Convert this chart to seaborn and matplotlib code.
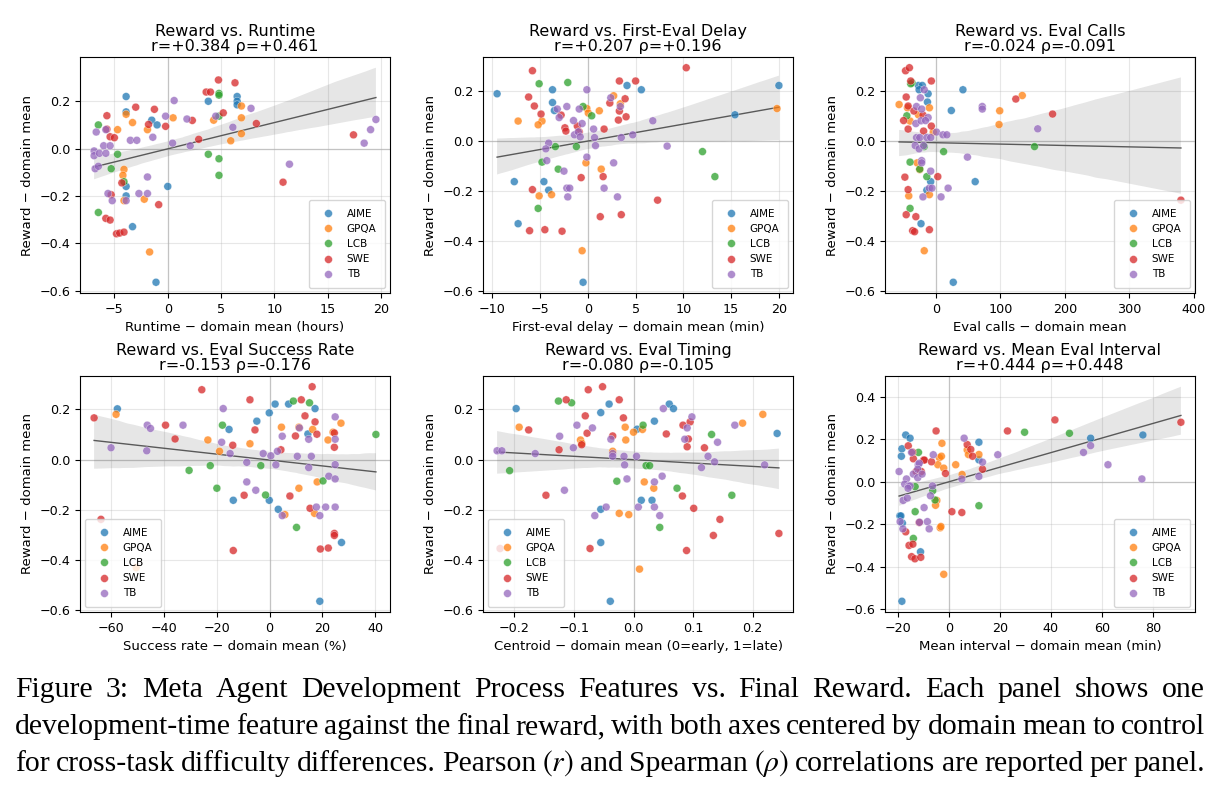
import matplotlib
matplotlib.use("Agg")
import matplotlib.pyplot as plt
import matplotlib.ticker as mticker
import seaborn as sns
import pandas as pd

domains = ["AIME", "GPQA", "LCB", "SWE", "TB"]
colors = sns.color_palette("tab10", 5)

# ---- Panel 1: Runtime (hours) ----
p1_aime = [(-3.9, 0.22), (-3.9, 0.155), (-1.5, 0.12), (-1.0, 0.10), (3.8, 0.20), (6.5, 0.22), (6.5, 0.20),
           (6.5, 0.185), (-3.9, -0.16), (-3.9, -0.20), (0.0, -0.16), (-3.3, -0.33), (-1.1, -0.565)]
p1_gpqa = [(-3.9, 0.145), (-3.3, 0.11), (-4.7, 0.08), (-1.9, 0.08), (0.5, 0.13), (4.3, 0.12), (6.9, 0.18),
           (6.9, 0.13), (6.9, 0.063), (5.9, 0.033), (-4.1, -0.088), (-4.2, -0.113), (-4.1, -0.22), (-2.2, -0.214),
           (-1.7, -0.437)]
p1_lcb = [(-6.5, 0.10), (-4.7, -0.024), (-5.3, -0.085), (-4.1, -0.14), (-6.5, -0.27), (4.8, 0.233), (4.8, 0.226),
          (4.8, 0.137), (3.8, -0.024), (4.8, -0.043), (4.8, -0.113)]
p1_swe = [(-5.7, 0.139), (-5.7, 0.082), (-5.4, 0.05), (-5.0, 0.046), (-3.0, 0.175), (-1.25, 0.166), (-1.8, 0.102),
          (-0.2, 0.094), (2.3, 0.119), (2.9, 0.039), (3.6, 0.239), (4.0, 0.239), (4.75, 0.29), (6.3, 0.278),
          (5.2, 0.151), (8.3, 0.106), (-4.3, -0.145), (-5.3, -0.195), (-0.85, -0.237), (-5.8, -0.295),
          (-5.4, -0.302), (-4.8, -0.36), (-4.5, -0.357), (-4.1, -0.353), (10.8, -0.142), (17.4, 0.058)]
p1_tb = [(-6.7, 0.07), (-5.8, 0.08), (-6.0, 0.012), (-5.4, 0.012), (-6.9, -0.01), (-6.9, -0.03), (-6.4, -0.02),
         (-5.8, -0.02), (-6.8, -0.085), (-6.5, -0.075), (-3.5, 0.035), (-2.9, 0.035), (-1.4, 0.048), (-0.2, 0.137),
         (0.6, 0.203), (1.8, 0.125), (0.45, 0.023), (2.1, 0.012), (4.5, 0.137), (6.1, 0.09), (7.8, 0.17),
         (-5.6, -0.19), (-5.2, -0.22), (-3.9, -0.22), (-2.7, -0.19), (-1.9, -0.19), (-1.9, -0.12), (11.4, -0.066),
         (18.4, 0.023), (19.0, 0.08), (19.5, 0.123)]

# ---- Panel 2: First-eval delay (min) ----
p2_aime = [(-9.5, 0.188), (-3.7, 0.204), (-3.7, 0.153), (-3.5, 0.121), (4.1, 0.221), (5.6, 0.204), (15.4, 0.104),
           (20.0, 0.221), (-7.7, -0.163), (-4.6, -0.163), (-4.1, -0.197), (-7.3, -0.331), (-0.5, -0.565)]
p2_gpqa = [(-7.3, 0.079), (-4.8, 0.079), (-5.2, 0.064), (-0.1, 0.129), (0.05, 0.111), (1.2, 0.12), (2.7, 0.18),
           (3.4, 0.148), (19.8, 0.129), (-0.2, -0.088), (1.4, -0.113), (-5.1, -0.22), (-3.8, -0.215),
           (-0.6, -0.439)]
p2_lcb = [(-5.1, 0.228), (-2.1, 0.233), (-0.5, 0.137), (0.4, 0.1), (-3.4, -0.023), (-1.2, -0.023), (-4.8, -0.085),
          (-3.1, -0.113), (-5.2, -0.27), (12.0, -0.043), (13.3, -0.143)]
p2_swe = [(-5.8, 0.28), (-6.2, 0.175), (-5.6, 0.139), (-4.9, 0.107), (-2.8, 0.103), (-2.4, 0.052), (-2.3, 0.039),
          (-1.1, 0.059), (-0.9, 0.036), (2.3, 0.151), (3.3, 0.239), (5.0, 0.239), (3.9, 0.168), (3.3, 0.119),
          (3.2, 0.083), (4.0, 0.096), (1.7, 0.047), (-0.7, -0.147), (1.6, -0.143), (-5.8, -0.195), (-6.1, -0.359),
          (-4.5, -0.355), (-2.7, -0.361), (1.3, -0.303), (3.5, -0.295), (7.3, -0.237), (10.3, 0.292)]
p2_tb = [(-0.1, 0.204), (2.4, 0.172), (3.4, 0.137), (-3.2, 0.127), (-3.0, 0.093), (-2.2, 0.137), (-0.9, 0.127),
         (-1.5, 0.081), (-0.6, 0.069), (-1.4, 0.024), (-1.0, 0.036), (-0.8, 0.016), (0.6, 0.047), (0.7, 0.013),
         (0.8, -0.019), (3.5, 0.013), (4.7, 0.024), (6.8, 0.08), (8.3, -0.021), (-4.1, -0.009), (-4.4, -0.032),
         (-4.3, -0.079), (-2.5, -0.121), (-2.2, -0.189), (-1.9, -0.189), (-2.1, -0.224), (-0.1, -0.065),
         (1.7, -0.189), (2.7, -0.088), (3.1, -0.224)]

# ---- Panel 3: Eval calls ----
p3_aime = [(-27, 0.221), (-21, 0.221), (-26, 0.204), (-12, 0.188), (-13, 0.155), (42, 0.204), (24, 0.121),
           (61, -0.163), (-8, -0.163), (-14, -0.197), (-23, -0.331), (27, -0.565)]
p3_gpqa = [(-57, 0.145), (-44, 0.132), (-40, 0.079), (-10, 0.132), (-27, 0.104), (-4, 0.035), (99, 0.12),
           (98, 0.065), (134, 0.181), (-29, -0.088), (-25, -0.115), (-42, -0.22), (-10, -0.215), (-18, -0.439)]
p3_lcb = [(-37, 0.232), (-39, 0.228), (-45, 0.1), (-40, -0.085), (-25, -0.113), (-18, -0.023), (12, -0.043),
          (-14, -0.143), (-40, -0.27), (153, -0.023)]
p3_swe = [(-47, 0.28), (-41, 0.292), (-39, 0.239), (-7, 0.239), (-46, 0.175), (-43, 0.139), (-34, 0.119),
          (-50, 0.081), (-43, 0.047), (-20, 0.103), (-19, 0.039), (-7, 0.059), (124, 0.167), (181, 0.107),
          (-48, -0.145), (-43, -0.195), (3, -0.143), (-46, -0.295), (-31, -0.303), (-36, -0.359), (-33, -0.363),
          (-10, -0.355), (380, -0.237)]
p3_tb = [(-18, 0.204), (-24, 0.172), (-30, 0.137), (-22, 0.127), (-12, 0.093), (-31, 0.069), (-23, 0.08),
         (-16, 0.081), (1, 0.035), (11, 0.024), (17, 0.024), (-30, 0.013), (-25, 0.013), (-14, 0.013), (-8, 0.013),
         (-32, -0.019), (-26, -0.032), (-19, -0.019), (72, 0.137), (72, 0.127), (158, 0.048), (49, -0.065),
         (-22, -0.079), (-22, -0.088), (-8, -0.121), (-10, -0.189), (-6, -0.189), (-20, -0.224), (8, -0.224),
         (19, -0.189)]

# ---- Panel 4: Eval success rate (%) ----
p4_aime = [(-57.5, 0.202), (-15.3, 0.12), (-4.8, 0.153), (-0.1, 0.186), (2.1, 0.221), (7.2, 0.221), (17.2, 0.203),
           (14.5, 0.102), (-13.7, -0.162), (-0.1, -0.162), (3.3, -0.198), (27.2, -0.33), (19.0, -0.564)]
p4_gpqa = [(-58, 0.18), (-23.3, 0.078), (-18.9, 0.033), (-7.4, 0.063), (4.5, 0.129), (11.1, 0.129), (16.3, 0.12),
           (22.1, 0.078), (24.0, 0.109), (27.0, 0.145), (18.0, -0.089), (11.1, -0.114), (5.8, -0.219),
           (17.0, -0.214), (-50.4, -0.43)]
p4_lcb = [(9.0, 0.233), (15.1, 0.226), (-17.8, 0.137), (-22.4, -0.024), (-30.4, -0.043), (-3.3, -0.024),
          (-19.9, -0.114), (-1.5, -0.141), (20.2, -0.085), (10.2, -0.27), (40.2, 0.1)]
p4_swe = [(-66.3, 0.166), (-25.6, 0.278), (-7.4, 0.238), (-39.3, 0.137), (-35.7, 0.082), (-13.9, 0.057),
          (-5.5, 0.118), (12.0, 0.238), (16.1, 0.29), (13.4, 0.174), (17.2, 0.15), (9.8, 0.094), (17.9, 0.101),
          (4.3, 0.039), (24.5, 0.106), (24.5, 0.049), (-63.7, -0.238), (-13.7, -0.362), (-9.6, -0.142),
          (7.7, -0.145), (15.3, -0.194), (24.5, -0.294), (24.5, -0.302), (19.2, -0.356), (22.2, -0.352)]
p4_tb = [(-59.9, 0.047), (-46.2, 0.137), (-45.0, 0.124), (-46.4, 0.035), (-32.7, 0.137), (-17.5, 0.203),
         (-18.1, 0.069), (-14.9, 0.024), (-8.6, -0.011), (-2.4, 0.024), (0.5, 0.015), (2.4, -0.021), (3.0, 0.033),
         (4.8, 0.093), (11.3, 0.126), (10.5, 0.013), (14.8, 0.081), (14.8, -0.032), (15.8, 0.013), (24.8, 0.17),
         (24.8, 0.081), (24.8, -0.02), (22.4, -0.066), (24.8, -0.077), (-8.6, -0.089), (-5.2, -0.122),
         (4.8, -0.223), (19.0, -0.223), (17.7, -0.189), (21.2, -0.189), (24.8, -0.189)]

# ---- Panel 5: Eval timing centroid ----
p5_aime = [(-0.197, 0.203), (-0.055, 0.187), (-0.041, 0.221), (0.006, 0.121), (0.035, 0.153), (0.06, 0.221),
           (0.067, 0.203), (0.241, 0.104), (0.013, -0.162), (0.031, -0.162), (-0.055, -0.198), (-0.055, -0.33),
           (-0.039, -0.564)]
p5_gpqa = [(-0.192, 0.129), (-0.089, 0.078), (-0.087, 0.065), (-0.035, 0.033), (-0.014, 0.129), (-0.013, 0.078),
           (0.0, 0.109), (0.015, 0.12), (0.018, -0.089), (0.034, -0.114), (-0.024, -0.214), (-0.008, -0.219),
           (0.01, -0.436), (0.217, 0.18), (0.183, 0.145)]
p5_lcb = [(-0.126, 0.233), (-0.104, 0.226), (0.016, 0.137), (0.131, 0.1), (0.021, -0.024), (0.027, -0.024),
          (-0.208, -0.044), (-0.028, -0.086), (0.073, -0.114), (0.165, -0.142), (0.044, -0.27)]
p5_swe = [(-0.076, 0.278), (-0.052, 0.29), (-0.113, 0.238), (-0.024, 0.238), (-0.081, 0.174), (-0.017, 0.166),
          (-0.176, 0.118), (-0.078, 0.105), (-0.035, 0.094), (-0.087, 0.059), (-0.125, 0.039), (0.055, 0.102),
          (0.083, 0.137), (0.095, 0.15), (0.092, 0.082), (0.09, 0.051), (0.119, 0.047), (-0.147, -0.142),
          (0.082, -0.145), (0.101, -0.194), (0.145, -0.238), (0.134, -0.302), (0.089, -0.362), (-0.073, -0.354),
          (0.244, -0.294), (-0.224, -0.354)]
p5_tb = [(-0.229, 0.035), (-0.221, 0.035), (-0.165, 0.024), (-0.124, 0.093), (-0.101, 0.047), (-0.095, 0.137),
         (-0.069, 0.126), (-0.038, 0.081), (-0.035, 0.024), (-0.035, 0.013), (-0.016, 0.013), (-0.015, -0.021),
         (0.005, 0.013), (0.05, 0.203), (0.098, 0.17), (0.09, 0.126), (0.086, 0.081), (0.141, 0.069),
         (0.125, 0.013), (0.136, -0.009), (0.114, -0.032), (0.17, 0.137), (0.22, -0.021), (0.048, -0.066),
         (-0.011, -0.077), (0.035, -0.089), (-0.116, -0.122), (-0.046, -0.189), (-0.065, -0.223), (0.008, -0.189),
         (0.035, -0.189), (0.044, -0.223)]

# ---- Panel 6: Mean eval interval (min) ----
p6_aime = [(-16.9, 0.22), (-15.2, 0.205), (-18.4, 0.155), (-18.6, 0.12), (11.8, 0.186), (11.8, 0.103),
           (55.6, 0.205), (76.1, 0.22), (-19.2, -0.161), (-18.8, -0.161), (-18.2, -0.195), (-11.1, -0.33),
           (-18.4, -0.563)]
p6_gpqa = [(-2.7, 0.181), (-3.7, 0.113), (-2.9, 0.12), (-4.3, 0.08), (-2.0, 0.064), (2.7, 0.08), (5.2, 0.034),
           (7.2, 0.15), (7.7, 0.128), (11.8, 0.128), (-4.7, -0.088), (-5.2, -0.111), (-3.4, -0.217),
           (-3.1, -0.211), (-2.0, -0.436)]
p6_lcb = [(-11.9, 0.138), (-13.2, -0.023), (-6.3, -0.042), (-5.4, -0.086), (-13.2, -0.141), (-13.9, -0.267),
          (11.8, -0.113), (29.7, 0.233), (47.3, 0.228)]
p6_swe = [(-5.0, 0.239), (-15.9, 0.169), (-14.2, 0.139), (-13.9, 0.108), (-9.9, 0.102), (-9.6, 0.102),
          (-6.8, 0.094), (-10.8, 0.048), (-12.8, 0.048), (-1.3, 0.039), (7.2, 0.175), (8.6, 0.152), (9.3, 0.12),
          (13.2, 0.059), (23.0, 0.239), (41.6, 0.291), (91.0, 0.28), (1.2, -0.141), (5.1, -0.145), (-11.6, -0.192),
          (-16.9, -0.236), (-15.6, -0.3), (-14.1, -0.294), (-14.6, -0.353), (-13.3, -0.363), (-11.0, -0.356)]
p6_tb = [(-19.5, 0.048), (-14.6, 0.138), (-16.6, 0.013), (-17.3, -0.011), (-15.7, -0.02), (-15.2, -0.02),
         (-16.0, -0.031), (-17.9, -0.088), (-16.3, -0.077), (-13.9, 0.036), (-12.0, 0.08), (-11.6, 0.087),
         (-12.2, 0.059), (-12.2, 0.019), (-10.5, 0.036), (-6.1, 0.127), (-6.4, -0.02), (-7.2, -0.066),
         (-9.7, -0.122), (-11.5, -0.191), (-8.4, -0.188), (-7.7, -0.222), (-19.1, -0.188), (-18.0, -0.222),
         (6.0, 0.205), (5.1, 0.013), (11.8, 0.025), (13.2, 0.092), (19.2, 0.127), (52.8, 0.138), (55.6, 0.17),
         (62.4, 0.08), (75.7, 0.013)]

titles = ["Reward vs. Runtime\nr=+0.384 ρ=+0.461",
          "Reward vs. First-Eval Delay\nr=+0.207 ρ=+0.196",
          "Reward vs. Eval Calls\nr=-0.024 ρ=-0.091",
          "Reward vs. Eval Success Rate\nr=-0.153 ρ=-0.176",
          "Reward vs. Eval Timing\nr=-0.080 ρ=-0.105",
          "Reward vs. Mean Eval Interval\nr=+0.444 ρ=+0.448"]
xlabels = ["Runtime \u2212 domain mean (hours)",
           "First-eval delay \u2212 domain mean (min)",
           "Eval calls \u2212 domain mean",
           "Success rate \u2212 domain mean (%)",
           "Centroid \u2212 domain mean (0=early, 1=late)",
           "Mean interval \u2212 domain mean (min)"]
panels = [
    [p1_aime, p1_gpqa, p1_lcb, p1_swe, p1_tb],
    [p2_aime, p2_gpqa, p2_lcb, p2_swe, p2_tb],
    [p3_aime, p3_gpqa, p3_lcb, p3_swe, p3_tb],
    [p4_aime, p4_gpqa, p4_lcb, p4_swe, p4_tb],
    [p5_aime, p5_gpqa, p5_lcb, p5_swe, p5_tb],
    [p6_aime, p6_gpqa, p6_lcb, p6_swe, p6_tb],
]
xsteps = [5, 5, 100, 20, 0.1, 20]
legend_locs = ["lower right", "lower right", "lower right", "lower left", "lower left", "lower right"]

W, H = 1219, 789
fig = plt.figure(figsize=(W / 100, H / 100), dpi=100)
lefts = [80, 483, 885]
tops = [57, 376]
aw, ah = 310, 236

for i, groups in enumerate(panels):
    r, c = divmod(i, 3)
    ax = fig.add_axes([lefts[c] / W, 1 - (tops[r] + ah) / H, aw / W, ah / H])
    rows = []
    for dom, pts in zip(domains, groups):
        for x, y in pts:
            rows.append({"x": x, "y": y, "domain": dom})
    df = pd.DataFrame(rows)

    ax.axhline(0, color="0.8", lw=0.9, zorder=0)
    ax.axvline(0, color="0.8", lw=0.9, zorder=0)
    sns.regplot(data=df, x="x", y="y", scatter=False, ax=ax, color="0.35",
                line_kws={"lw": 1.0}, seed=0)
    sns.scatterplot(data=df, x="x", y="y", hue="domain", hue_order=domains, palette=colors,
                    s=32, alpha=0.75, edgecolor="white", linewidth=0.3, ax=ax, zorder=3)

    ax.xaxis.set_major_locator(mticker.MultipleLocator(xsteps[i]))
    ax.yaxis.set_major_locator(mticker.MultipleLocator(0.2))
    ax.grid(True, alpha=0.3)
    ax.set_axisbelow(True)
    ax.tick_params(labelsize=9.2)
    ax.set_title(titles[i], fontsize=11.5, pad=4, linespacing=1.0)
    ax.set_xlabel(xlabels[i], fontsize=9.5)
    ax.set_ylabel("Reward \u2212 domain mean", fontsize=9.5)
    ax.legend(loc=legend_locs[i], fontsize=7.5, title=None, borderpad=0.8, handletextpad=0.8)

# caption, justified word by word
plt.rcParams["mathtext.fontset"] = "stix"
cap_lines = [
    "Figure 3: Meta Agent Development Process Features vs. Final Reward. Each panel shows one",
    "development-time feature against the final reward, with both axes centered by domain mean to control",
    "for cross-task difficulty differences. Pearson $(r)$ and Spearman $(\\rho)$ correlations are reported per panel.",
]
baselines = [697, 734, 771]
renderer = fig.canvas.get_renderer()
x0, x1 = 15, 1205
for line, yb in zip(cap_lines, baselines):
    words = line.split(" ")
    ts = [fig.text(0, 1 - yb / H, w, fontsize=21.3, family="Liberation Serif", va="baseline")
          for w in words]
    widths = [t.get_window_extent(renderer).width for t in ts]
    gap = (x1 - x0 - sum(widths)) / (len(words) - 1)
    xp = x0
    for t, w in zip(ts, widths):
        t.set_x(xp / W)
        xp += w + gap

fig.savefig("out.png", dpi=100)
